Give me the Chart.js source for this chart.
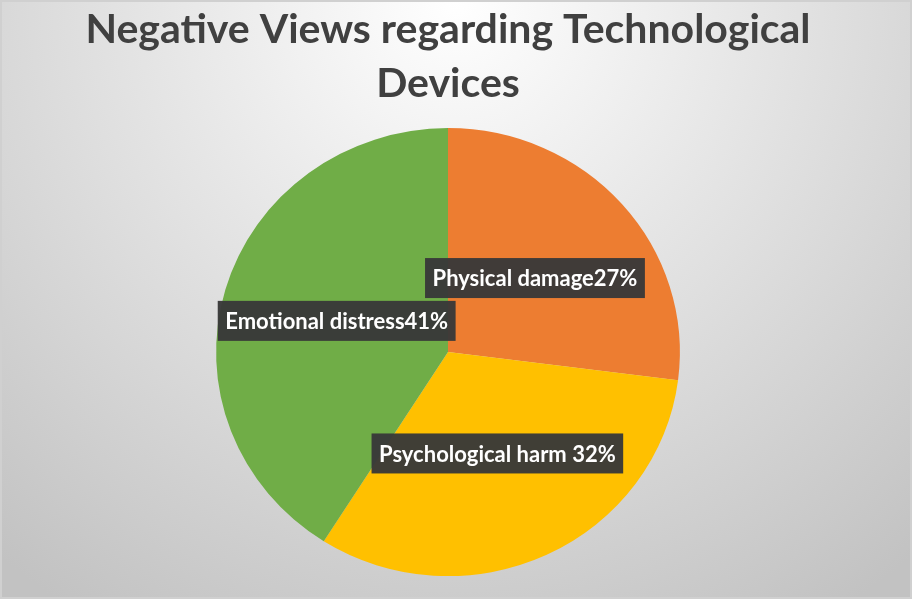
<!DOCTYPE html>
<html>
<head>
<meta charset="utf-8">
<script src="https://cdn.jsdelivr.net/npm/chart.js@4"></script>
<style>
  html, body { margin: 0; padding: 0; background: #fff; }
  #wrap { width: 912px; height: 599px; }
</style>
</head>
<body>
<div id="wrap"><canvas id="pie" width="912" height="599"></canvas></div>
<script>
// Data
const categories = ["Physical damage", "Psychological harm", "Emotional distress"];
const shares = [27, 32, 41];
const labelTexts = ["Physical damage27%", "Psychological harm 32%", "Emotional distress41%"];
const sliceColors = ["#ED7D31", "#FFC000", "#70AD47"];
const titleLines = ["Negative Views regarding Technological", "Devices"];

// the reference pie is a touch flatter than it is wide
const squash = 0.966;

// Gradient background + thin frame
const backdrop = {
  id: "backdrop",
  beforeDraw(chart) {
    const { ctx, width, height } = chart;
    ctx.save();
    const g = ctx.createRadialGradient(width / 2, 0, 0, width / 2, 0, 720);
    g.addColorStop(0, "#ffffff");
    g.addColorStop(1, "#c2c2c2");
    ctx.fillStyle = g;
    ctx.fillRect(0, 0, width, height);
    ctx.strokeStyle = "#d0d0d0";
    ctx.lineWidth = 2;
    ctx.strokeRect(1, 1, width - 2, height - 2);
    ctx.restore();
  },
};

function squashAround(chart) {
  const cy = (chart.chartArea.top + chart.chartArea.bottom) / 2;
  return (y) => cy + (y - cy) * squash;
}

const flatten = {
  id: "flatten",
  beforeDatasetsDraw(chart) {
    const { ctx } = chart;
    const cy = (chart.chartArea.top + chart.chartArea.bottom) / 2;
    ctx.save();
    ctx.translate(0, cy);
    ctx.scale(1, squash);
    ctx.translate(0, -cy);
  },
  afterDatasetsDraw(chart) {
    chart.ctx.restore();
  },
};

// Dark boxed data labels at the middle of each slice
const boxLabels = {
  id: "boxLabels",
  afterDatasetsDraw(chart) {
    const { ctx } = chart;
    const arcs = chart.getDatasetMeta(0).data;
    const sy = squashAround(chart);
    ctx.save();
    ctx.font = "bold 22px Lato, 'Open Sans', sans-serif";
    ctx.textAlign = "center";
    ctx.textBaseline = "middle";
    arcs.forEach((arc, i) => {
      const p = arc.tooltipPosition();
      const y = sy(p.y);
      const text = labelTexts[i];
      const w = ctx.measureText(text).width + 15;
      const h = 40;
      ctx.fillStyle = "rgba(56,56,56,0.96)";
      ctx.fillRect(p.x - w / 2, y - h / 2, w, h);
      ctx.fillStyle = "#ffffff";
      ctx.fillText(text, p.x, y + 1);
    });
    ctx.restore();
  },
};

new Chart(document.getElementById("pie"), {
  type: "pie",
  data: {
    labels: categories,
    datasets: [
      {
        data: shares,
        backgroundColor: sliceColors,
        borderWidth: 0,
      },
    ],
  },
  options: {
    responsive: false,
    animation: false,
    layout: {
      padding: { left: 0, right: 16, top: 0, bottom: 15 },
    },
    plugins: {
      legend: { display: false },
      tooltip: { enabled: false },
      title: {
        display: true,
        text: titleLines,
        color: "#404040",
        font: { family: "Lato, 'Open Sans', sans-serif", size: 41, weight: "bold", lineHeight: 1.32 },
        padding: { top: 3, bottom: 9 },
      },
    },
  },
  plugins: [backdrop, flatten, boxLabels],
});
</script>
</body>
</html>
